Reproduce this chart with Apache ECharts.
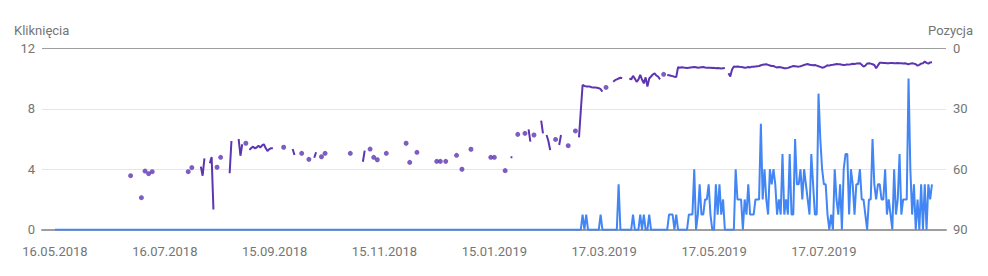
<!DOCTYPE html>
<html><head><meta charset="utf-8">
<script src="https://cdn.jsdelivr.net/npm/echarts@6/dist/echarts.min.js"></script>
<style>html,body{margin:0;padding:0;background:#fff}#c{width:988px;height:276px}</style>
</head><body><div id="c"></div>
<script>
const _ = null;
// day index 0 = 16.05.2018
const tickDays = [0, 61, 122, 183, 244, 305, 366, 427];
const tickLabels = ['16.05.2018','16.07.2018','15.09.2018','15.11.2018','15.01.2019','17.03.2019','17.05.2019','17.07.2019'];
const leftAxisName = 'Kliknięcia';
const rightAxisName = 'Pozycja';

// Kliknięcia (clicks), one value per day (days 0..487)
const clicks = [
0,0,0,0,0,0,0,0,0,0, 0,0,0,0,0,0,0,0,0,0, 0,0,0,0,0,0,0,0,0,0, 0,0,0,0,0,0,0,0,0,0,
0,0,0,0,0,0,0,0,0,0, 0,0,0,0,0,0,0,0,0,0, 0,0,0,0,0,0,0,0,0,0, 0,0,0,0,0,0,0,0,0,0,
0,0,0,0,0,0,0,0,0,0, 0,0,0,0,0,0,0,0,0,0, 0,0,0,0,0,0,0,0,0,0, 0,0,0,0,0,0,0,0,0,0,
0,0,0,0,0,0,0,0,0,0, 0,0,0,0,0,0,0,0,0,0, 0,0,0,0,0,0,0,0,0,0, 0,0,0,0,0,0,0,0,0,0,
0,0,0,0,0,0,0,0,0,0, 0,0,0,0,0,0,0,0,0,0, 0,0,0,0,0,0,0,0,0,0, 0,0,0,0,0,0,0,0,0,0,
0,0,0,0,0,0,0,0,0,0, 0,0,0,0,0,0,0,0,0,0, 0,0,0,0,0,0,0,0,0,0, 0,0,0,0,0,0,0,0,0,0,
0,0,0,0,0,0,0,0,0,0, 0,0,0,0,0,0,0,0,0,0, 0,0,0,0,0,0,0,0,0,0, 0,0,0,0,0,0,0,0,0,0,
0,0,0,0,0,0,0,0,0,0,
0,0,0,1,0,1,0,0,0,0,
0,0,0,1,0,0,0,0,0,0,
0,0,0,3,0,0,0,0,0,0,
0,1,0,0,0,1,0,1,0,0,
1,0,0,0,0,0,0,0,0,0,
0,1,1,1,0,1,0,0,0,0,
0,0,1,1,1,4,0,1,3,1,
1,2,2,3,1,0,0,3,1,3,
1,2,0,0,0,0,0,0,4,2,
2,2,0,2,1,3,1,1,1,2,
2,2,7,2,4,2,1,4,3,4,
3,1,2,1,5,1,2,1,5,1,
1,6,3,3,4,2,4,3,2,1,
5,3,1,1,9,6,4,3,3,1,
0,1,0,4,2,1,3,0,4,5,
5,1,4,3,1,3,3,4,2,2,
1,0,2,2,6,3,2,3,3,2,
2,4,1,2,1,0,4,1,2,5,
1,2,2,2,10,4,1,3,0,2,
0,3,0,3,0,3,2,3
];

// Pozycja (average position), one value per day, _ = no data
const position = [
_,_,_,_,_,_,_,_,_,_,
_,_,_,_,_,_,_,_,_,_,
_,_,_,_,_,_,_,_,_,_,
_,_,_,_,_,_,_,_,_,_,
_,_,63.2,_,_,_,_,_,74.1,_,
60.9,_,62.2,_,61.2,_,_,_,_,_,
_,_,_,_,_,_,_,_,_,_,
_,_,_,_,61.2,_,59.2,_,_,_,
_,58.7,63.2,54.6,_,_,57,54,80,_,
59,_,54.1,_,_,_,_,62,46,_,
_,_,45,53.3,47.6,_,47.1,_,50.4,49.5,
48.8,49.6,49.2,48.3,49.3,48.2,47.6,49.5,51,50,
49.6,49.6,_,_,_,_,_,49.1,_,_,
_,_,50,52.9,_,_,_,52.1,_,_,
_,55.1,_,_,54.3,51.6,_,_,53.8,_,
52.1,_,_,_,_,_,_,_,_,_,
_,_,_,_,52.1,_,_,_,_,_,
_,56.3,50.8,_,_,50,_,54.1,_,55.3,
_,_,_,_,52.1,_,_,_,_,_,
_,_,_,_,_,47.1,_,56.6,_,_,
_,51.6,_,_,_,_,_,_,_,_,
_,_,56.1,_,56.1,_,_,56.1,_,_,
_,_,_,53.1,_,_,60,_,_,_,
_,50.1,_,_,_,_,_,_,_,_,
_,_,54.1,_,54.1,_,_,_,_,_,
60.7,_,_,54.1,54.1,_,_,42.7,_,_,
_,42.2,_,40.2,46.3,_,43,_,_,_,
35.9,42.2,_,43,46,50.5,_,_,45.2,_,
48,43,_,_,_,48.3,_,_,_,41,
_,44.2,31,18.2,18.7,18.9,19,19,19.3,19.4,
19.5,19.6,19.8,20.3,21.5,_,19.4,_,_,_,
16.6,15.8,15.4,15,14.6,14.8,_,_,_,14.9,
15.5,13.7,15,16.6,15.5,13.2,15.5,17.4,14.4,19,
15,14,13,12.4,13.5,14.1,15.4,_,12.9,_,
13.2,13.4,13.6,13.8,14.1,14.3,9.4,9.6,9.4,9.5,
9.7,9.8,9.6,9.5,9.4,9.3,9.4,9.6,9.5,9.4,
9.3,9.5,9.6,9.7,9.6,9.8,9.7,9.9,9.8,9.9,
10,9.9,9.8,_,12.4,14,10.5,9,9.1,9,
9.2,9.3,9.4,9.6,9.5,9.3,9.5,9.1,9.2,9,
8.9,8.8,8.4,8.2,8,7.9,8.2,8.5,8.8,8.8,
9.2,9.5,9.3,9.4,9.6,9.9,9.9,9.7,9.4,9.1,
8.8,8.9,9,9.1,8.9,8.6,8.3,8,7.8,8.2,
8.3,8.4,8.3,8.6,8.9,9.2,9.6,9.4,9,8.4,
8.6,8.3,8.2,8,7.8,7.9,7.9,8.2,8.3,8.2,
8,8.1,7.9,7.7,7.8,7.6,7.5,7.4,8.2,9.1,
8.6,7.6,7.4,7.6,7.9,8.3,9.9,8.5,7.2,7.2,
7.3,7.3,7.4,7.4,7.3,7.3,7.4,7.4,7.3,7.4,
7.4,7.5,7.4,7.7,7.9,7.6,7.4,7.6,7.9,8.6,
8.2,7.6,7.4,6.6,7.2,7.6,7,6.9
];

const clickData = clicks.map((v, i) => [i, v]);
const posData = position.map((v, i) => [i, v === null ? '-' : v]);
const isolated = [];
position.forEach((v, i) => {
  if (v !== null && (i === 0 || position[i - 1] == null) && (position[i + 1] == null)) isolated.push([i, v]);
});

const TXT = '#757575';
const FONT = 'Roboto, Arial, sans-serif';
const chart = echarts.init(document.getElementById('c'), null, {renderer: 'svg'});
chart.setOption({
  animation: false,
  backgroundColor: '#fff',
  grid: {left: 42, right: 42, top: 48.3, bottom: 46.3, containLabel: false},
  xAxis: {
    type: 'value', min: -7.2, max: 494.8,
    axisLine: {show: true, onZero: false, lineStyle: {color: '#9e9e9e', width: 2}},
    axisTick: {show: false},
    splitLine: {show: false},
    axisLabel: {
      customValues: tickDays,
      formatter: v => tickLabels[tickDays.indexOf(v)] || '',
      color: TXT, fontSize: 13, fontFamily: FONT, margin: 15
    }
  },
  yAxis: [
    {
      type: 'value', min: 0, max: 12, interval: 4, position: 'left',
      axisLine: {show: false}, axisTick: {show: false},
      splitLine: {show: true, lineStyle: {color: ['#9e9e9e', '#e6e6e6', '#e6e6e6', '#9e9e9e'], width: 1}},
      axisLabel: {color: TXT, fontSize: 13, fontFamily: FONT, margin: 7}
    },
    {
      type: 'value', min: 0, max: 90, interval: 30, inverse: true, position: 'right',
      axisLine: {show: false}, axisTick: {show: false},
      splitLine: {show: false},
      axisLabel: {color: TXT, fontSize: 13, fontFamily: FONT, margin: 7}
    }
  ],
  graphic: [
    {type: 'text', left: 14, top: 24, style: {text: leftAxisName, fill: TXT, font: '13px ' + FONT}},
    {type: 'text', right: 15, top: 24, style: {text: rightAxisName, fill: TXT, font: '13px ' + FONT}}
  ],
  series: [
    {
      name: leftAxisName, type: 'line', yAxisIndex: 0, data: clickData,
      showSymbol: false, symbol: 'none', connectNulls: false,
      lineStyle: {color: '#4285f4', width: 2}, itemStyle: {color: '#4285f4'}, z: 3
    },
    {
      name: rightAxisName, type: 'line', yAxisIndex: 1, data: posData,
      showSymbol: false, symbol: 'none', connectNulls: false,
      lineStyle: {color: '#5e35b1', width: 2}, itemStyle: {color: '#5e35b1'}, z: 4
    },
    {
      name: rightAxisName + ' ', type: 'scatter', yAxisIndex: 1, data: isolated,
      symbol: 'circle', symbolSize: 5, itemStyle: {color: '#5e35b1'}, z: 4
    }
  ]
});
</script>
</body></html>
